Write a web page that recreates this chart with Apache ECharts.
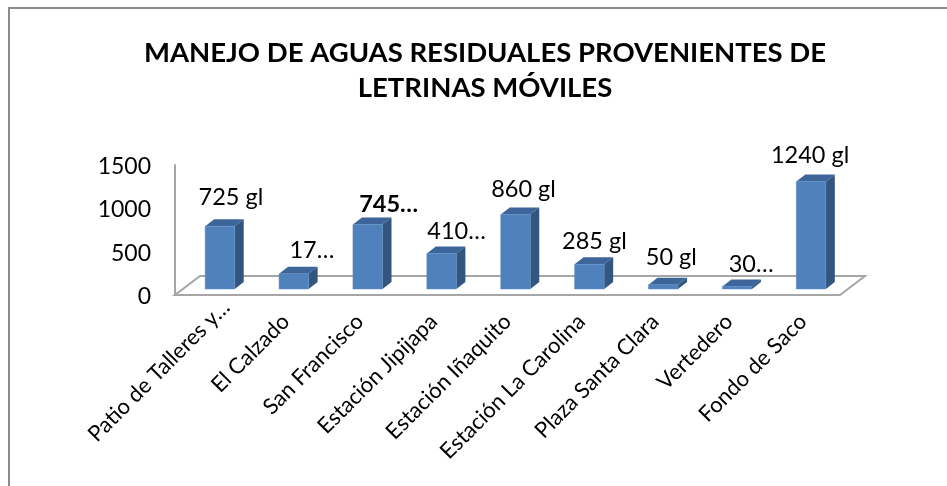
<!DOCTYPE html>
<html><head><meta charset="utf-8">
<style>html,body{margin:0;padding:0;background:#fff}#c{width:947px;height:486px}</style>
<script src="https://cdn.jsdelivr.net/npm/echarts@6/dist/echarts.min.js"></script>
</head><body><div id="c"></div>
<script>
const categories = ["Patio de Talleres y…","El Calzado","San Francisco","Estación Jipijapa","Estación Iñaquito","Estación La Carolina","Plaza Santa Clara","Vertedero","Fondo de Saco"];
const values = [725,175,745,410,860,285,50,30,1240];
const valueLabels = ["725 gl","17…","745…","410…","860 gl","285 gl","50 gl","30…","1240 gl"];
const boldLabels = ["745…"];
const yTicks = {min:0,max:1500,interval:500};
const titleText = "MANEJO DE AGUAS RESIDUALES PROVENIENTES DE\nLETRINAS MÓVILES";

// label placement relative to the top of each bar (px)
const labelShiftX = [11,18,21,15,8,5,8,14,-1];
const labelShiftY = [-29,-23,-20,-22.5,-25,-23,-27,-22,-26.5];

const FONT = "Lato, Carlito, Calibri, sans-serif";
const GREY = "#a6a6a6";
const FLOOR_DX = 25, FLOOR_DY = -19;
const BAR_DX = 8, BAR_DY = -6, DEPTH_DX = 9, DEPTH_DY = -7;

function renderFloor(params, api){
  const s = params.coordSys;
  const L = s.x, R = s.x + s.width, B = s.y + s.height;
  return {type:'polygon', silent:true,
    shape:{points:[[L,B],[R,B],[R+FLOOR_DX,B+FLOOR_DY],[L+FLOOR_DX,B+FLOOR_DY]]},
    style:{fill:'#ffffff',stroke:GREY,lineWidth:2}};
}
function renderBar(params, api){
  const i = params.dataIndex;
  const base = api.coord([api.value(0),0]);
  const top = api.coord([api.value(0),api.value(1)]);
  const w = api.size([1,0])[0]*0.4;
  const x0 = base[0]-w/2+BAR_DX, x1 = x0+w;
  const yb = base[1]+BAR_DY, yt = top[1]+BAR_DY;
  const label = valueLabels[i];
  return {type:'group',children:[
    {type:'polygon',shape:{points:[[x0,yt],[x1,yt],[x1+DEPTH_DX,yt+DEPTH_DY],[x0+DEPTH_DX,yt+DEPTH_DY]]},style:{fill:'#3d659a'}},
    {type:'polygon',shape:{points:[[x1,yb],[x1+DEPTH_DX,yb+DEPTH_DY],[x1+DEPTH_DX,yt+DEPTH_DY],[x1,yt]]},style:{fill:'#335680'}},
    {type:'rect',shape:{x:x0,y:yt,width:w,height:yb-yt},style:{fill:'#4f81bd',stroke:'#5a8ac3',lineWidth:0.5}},
    {type:'text',style:{text:label,x:(x0+x1)/2+labelShiftX[i],y:yt+labelShiftY[i],align:'center',verticalAlign:'middle',
      font:(boldLabels.includes(label)?'bold ':'')+'23.5px '+FONT,fill:'#000'}}
  ]};
}
const chart = echarts.init(document.getElementById('c'),null,{renderer:'canvas'});
chart.setOption({
  animation:false,
  backgroundColor:'#fff',
  title:{text:titleText,left:480,top:31,textAlign:'center',
    textStyle:{fontFamily:FONT,fontWeight:'bold',fontSize:27.5,lineHeight:35,color:'#000'}},
  grid:{left:175,right:107,top:165,bottom:191,containLabel:false},
  xAxis:{type:'category',
    data:categories.map((c,i)=> i===0 ? {value:c,textStyle:{padding:[0,-20,0,0]}} : c),
    axisLine:{show:false},axisTick:{show:false},
    axisLabel:{interval:0,rotate:45,margin:23,fontFamily:FONT,fontSize:22,color:'#000'}},
  yAxis:{type:'value',min:yTicks.min,max:yTicks.max,interval:yTicks.interval,
    splitLine:{show:false},axisTick:{show:false},
    axisLine:{show:true,lineStyle:{color:GREY,width:2}},
    axisLabel:{margin:24,fontFamily:FONT,fontSize:23,color:'#000',verticalAlign:'top',padding:[-10,0,0,0],formatter:v=>String(v)}},
  graphic:[{type:'polyline',silent:true,shape:{points:[[9,486],[9,8],[947,8]]},style:{stroke:'#8c8c8c',lineWidth:2,fill:null}}],
  series:[
    {type:'custom',name:'floor',renderItem:renderFloor,data:[[0,0]],z:1,silent:true},
    {type:'custom',name:'Galones',renderItem:renderBar,data:values.map((v,i)=>[i,v]),encode:{x:0,y:1},z:2}
  ]
});
</script></body></html>
